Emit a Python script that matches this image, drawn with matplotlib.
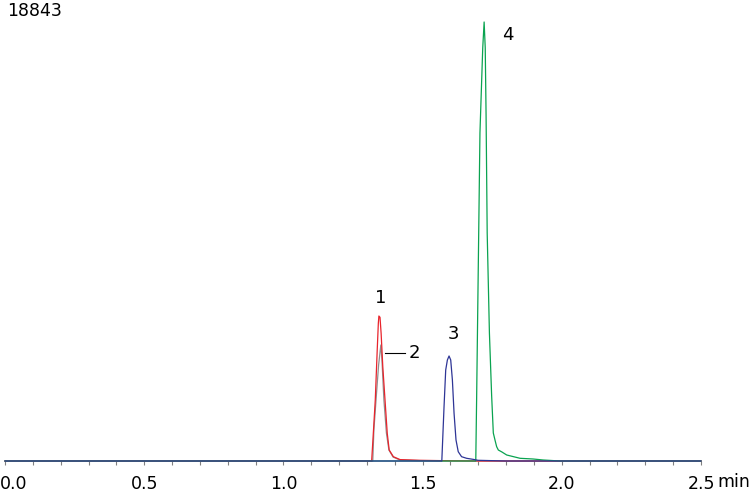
import matplotlib.pyplot as plt
from matplotlib.ticker import MultipleLocator
import matplotlib.transforms as mtransforms

# Chromatogram traces (time in min, intensity in counts)
red_t = [0.0, 1.315, 1.317, 1.323, 1.330, 1.337, 1.341, 1.343, 1.347, 1.351, 1.357, 1.365,
         1.373, 1.380, 1.395, 1.419, 1.491, 1.598, 1.700, 2.5]
red_y = [0, 0, 0, 1189, 2618, 4764, 5910, 6223, 6167, 5481, 4048, 2618,
         1189, 472, 185, 60, 30, 10, 0, 0]

gray_t = [0.0, 1.318, 1.321, 1.325, 1.334, 1.342, 1.350, 1.354, 1.361, 1.370, 1.379,
          1.394, 1.419, 1.491, 1.600, 2.5]
gray_y = [0, 0, 0, 1331, 2833, 4121, 4979, 4335, 2618, 1202, 472,
          170, 40, 15, 0, 0]

blue_t = [0.0, 1.565, 1.569, 1.577, 1.583, 1.589, 1.595, 1.601, 1.607, 1.613, 1.620,
          1.628, 1.640, 1.658, 1.682, 1.699, 1.800, 2.5]
blue_y = [0, 0, 0, 2331, 3906, 4335, 4507, 4335, 3477, 2047, 901,
          399, 185, 116, 70, 30, 0, 0]

green_t = [0.0, 1.688, 1.691, 1.694, 1.700, 1.706, 1.716, 1.721, 1.725, 1.728, 1.732,
           1.740, 1.748, 1.754, 1.760, 1.766, 1.772, 1.785, 1.802, 1.850, 1.897,
           1.933, 1.994, 2.5]
green_y = [0, 0, 0, 2618, 8340, 14079, 17728, 18843, 17728, 14852, 9787,
           5494, 2800, 1202, 901, 614, 472, 386, 258, 116, 86,
           43, 0, 0]

peak_labels = ['1', '2', '3', '4']
peak_label_t = [1.349, 1.470, 1.612, 1.807]
peak_label_y = [7000, 4640, 5460, 18300]

y_max = 18843
x_ticks = [0.0, 0.5, 1.0, 1.5, 2.0, 2.5]
x_tick_labels = ['0.0', '0.5', '1.0', '1.5', '2.0', '2.5']

fig = plt.figure(figsize=(7.5, 4.92), dpi=100)
# axes box from the picture: t=0 at x=5px, t=2.5 at x=701px, baseline y=461px, top y=22px
ax = fig.add_axes([5 / 750, (492 - 461) / 492, 696 / 750, 439 / 492])

ax.plot(gray_t, gray_y, color='#8f8f8f', lw=0.9, clip_on=False)
ax.plot(red_t, red_y, color='#e8242c', lw=0.9, clip_on=False)
ax.plot(green_t, green_y, color='#0aa350', lw=0.9, clip_on=False)
ax.plot(blue_t, blue_y, color='#2e3596', lw=0.9, clip_on=False)

ax.set_xlim(0, 2.5)
ax.set_ylim(0, y_max)

# peak numbers
for lab, t, y in zip(peak_labels, peak_label_t, peak_label_y):
    ax.text(t, y, lab, fontsize=13, ha='center', va='center', color='black')
# leader line for peak 2
ax.plot([1.366, 1.435], [4640, 4640], color='black', lw=0.8)

# axis styling
for s in ax.spines.values():
    s.set_visible(False)
ax.yaxis.set_visible(False)
ax.set_xticks(x_ticks)
ax.set_xticklabels(x_tick_labels)
ax.xaxis.set_minor_locator(MultipleLocator(0.1))
ax.tick_params(axis='x', which='both', length=3, width=0.8, color='#808080',
               labelsize=12.5, pad=7)

# first label sits flush with the left edge
lbl0 = ax.get_xticklabels()[0]
lbl0.set_horizontalalignment('left')
lbl0.set_transform(lbl0.get_transform() + mtransforms.ScaledTranslation(-5 / 100, 0, fig.dpi_scale_trans))

fig.text(717 / 750, 1 - 482 / 492, 'min', fontsize=12.5, ha='left', va='center')
fig.text(7 / 750, 1 - 11 / 492, '18843', fontsize=12.5, ha='left', va='center')

fig.savefig('out.png', dpi=100)
